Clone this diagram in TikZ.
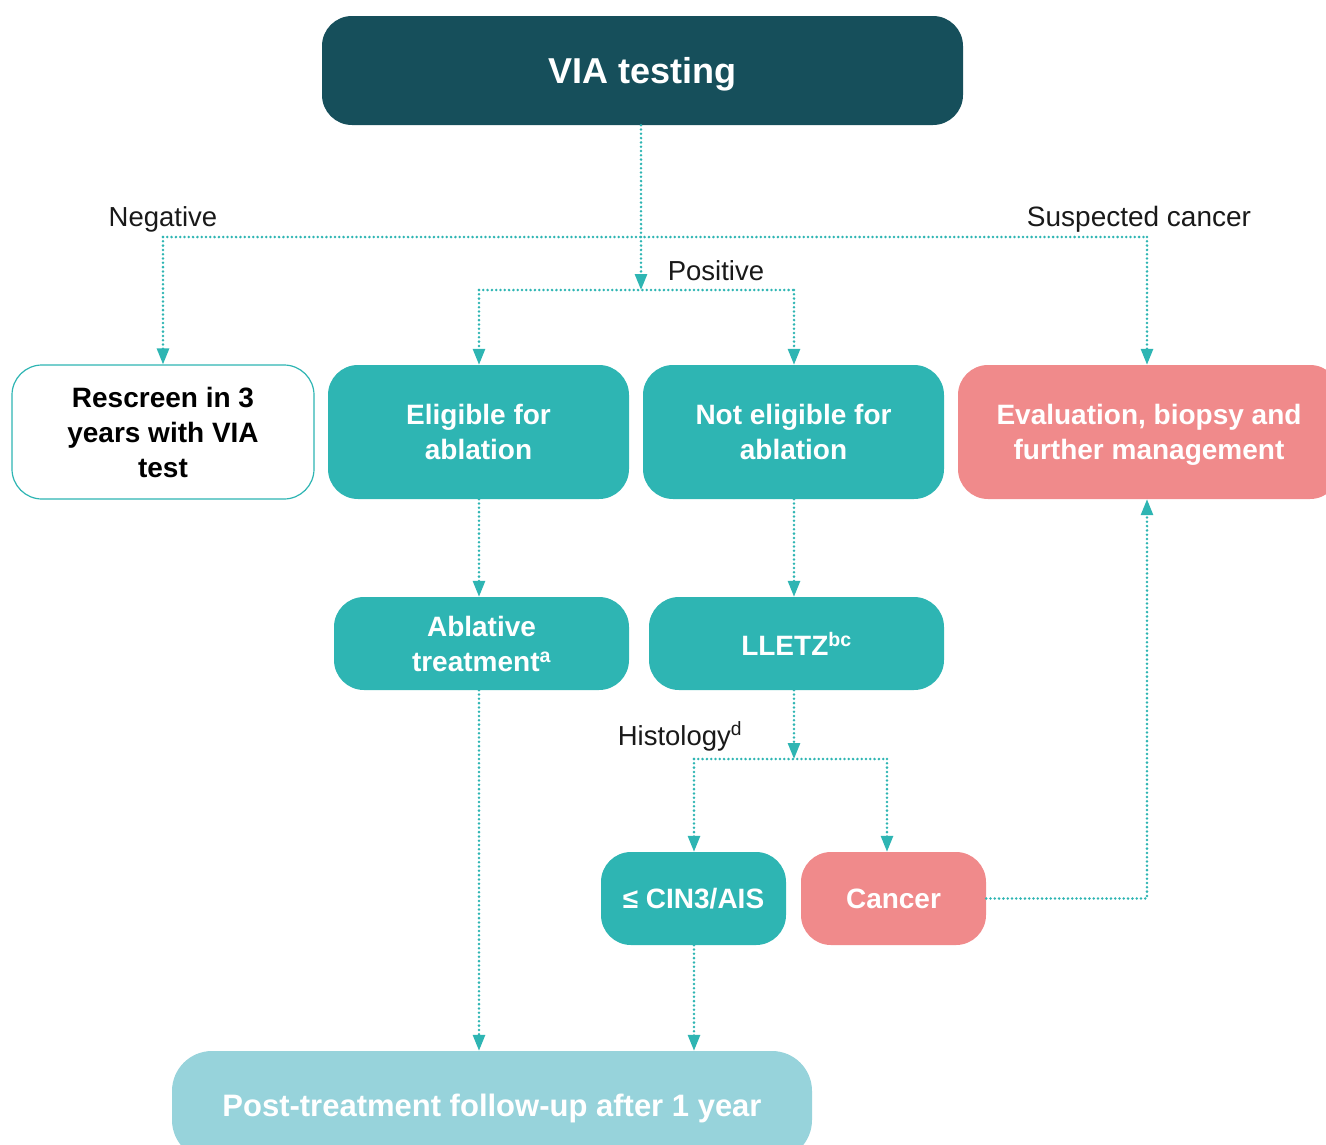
\documentclass[tikz,border=0pt]{standalone}
\usepackage{fontspec}
\setmainfont{Liberation Sans}
\usetikzlibrary{arrows.meta}
\definecolor{viadark}{HTML}{164F5B}
\definecolor{viateal}{HTML}{2EB5B3}
\definecolor{viapink}{HTML}{F08A8B}
\definecolor{vialight}{HTML}{97D3DB}
\tikzset{l/.style={font=\fontsize{27.5}{27.5}\selectfont, text=black!90, anchor=base}}
\tikzset{box/.style={rectangle, rounded corners=30pt, align=center, inner sep=0pt, text depth=0pt, text=white, font=\fontsize{28}{35}\selectfont\bfseries}}
\tikzset{dot/.style={viateal, line width=2.8pt, dash pattern=on 0pt off 4.3pt, line cap=round}}
\tikzset{arr/.style={dot, -{Triangle[width=12pt,length=16pt]}}}

\begin{document}
\begin{tikzpicture}[x=1pt,y=-1pt]
            \clip (0,0) rectangle (1326,1144);
            \node[box, fill=viadark, minimum width=641pt, minimum height=109pt, font=\fontsize{36}{36}\selectfont\bfseries] (via) at (642.5,70.5) {VIA testing};
            \node[box, fill=white, draw=viateal, line width=1.2pt, text=black, minimum width=302pt, minimum height=134pt] (rescreen) at (163,432) {Rescreen in 3\\years with VIA\\test};
            \node[box, fill=viateal, minimum width=301pt, minimum height=134pt] (elig) at (478.5,432) {Eligible for\\ablation};
            \node[box, fill=viateal, minimum width=301pt, minimum height=134pt] (noelig) at (793.5,432) {Not eligible for\\ablation};
            \node[box, fill=viapink, minimum width=382pt, minimum height=134pt] (eval) at (1149,432) {Evaluation, biopsy and\\further management};
            \node[box, fill=viateal, minimum width=295pt, minimum height=93pt] (ablat) at (481.5,643.5) {Ablative\\treatment\textsuperscript{a}};
            \node[box, fill=viateal, minimum width=295pt, minimum height=93pt] (lletz) at (796.5,643.5) {LLETZ\textsuperscript{bc}};
            \node[box, fill=viateal, minimum width=185pt, minimum height=93pt] (cin) at (693.5,898.5) {≤ CIN3/AIS};
            \node[box, fill=viapink, minimum width=185pt, minimum height=93pt] (cancer) at (893.5,898.5) {Cancer};
            \node[box, fill=vialight, rounded corners=40pt, minimum width=640pt, minimum height=109pt, font=\fontsize{31}{31}\selectfont\bfseries] (post) at (492,1105.5) {Post-treatment follow-up after 1 year};

            \node[l] (neg) at (163,226) {Negative};
            \node[l, font=\fontsize{28}{28}\selectfont] (susp) at (1139,226) {Suspected cancer};
            \node[l] (pos) at (716,280) {Positive};
            \node[l] (hist) at (680,745) {Histology\textsuperscript{d}};

            \coordinate (negc) at (163,237);
            \coordinate (suspc) at (1147,237);
            \coordinate (posc) at (641,290);
            \coordinate (eligc) at (479,290);
            \coordinate (noeligc) at (794,290);
            \coordinate (histc) at (794,759);
            \coordinate (cinc) at (694,759);
            \coordinate (cancc) at (887,759);

            \draw[dot] (negc) -- (suspc);
            \draw[arr] (posc |- via.south) -- (posc);
            \draw[arr] (negc) -- (rescreen.north);
            \draw[arr] (suspc) -- (suspc |- eval.north);
            \draw[dot] (eligc) -- (noeligc);
            \draw[arr] (eligc) -- (eligc |- elig.north);
            \draw[arr] (noeligc) -- (noeligc |- noelig.north);
            \draw[arr] (eligc |- elig.south) -- (eligc |- ablat.north);
            \draw[arr] (noeligc |- noelig.south) -- (noeligc |- lletz.north);
            \draw[arr] (histc |- lletz.south) -- (histc);
            \draw[dot] (cinc) -- (cancc);
            \draw[arr] (cinc) -- (cinc |- cin.north);
            \draw[arr] (cancc) -- (cancc |- cancer.north);
            \draw[arr] (cancer.east) -| (suspc |- eval.south);
            \draw[arr] (eligc |- ablat.south) -- (eligc |- post.north);
            \draw[arr] (cinc |- cin.south) -- (cinc |- post.north);
\end{tikzpicture}
\end{document}
